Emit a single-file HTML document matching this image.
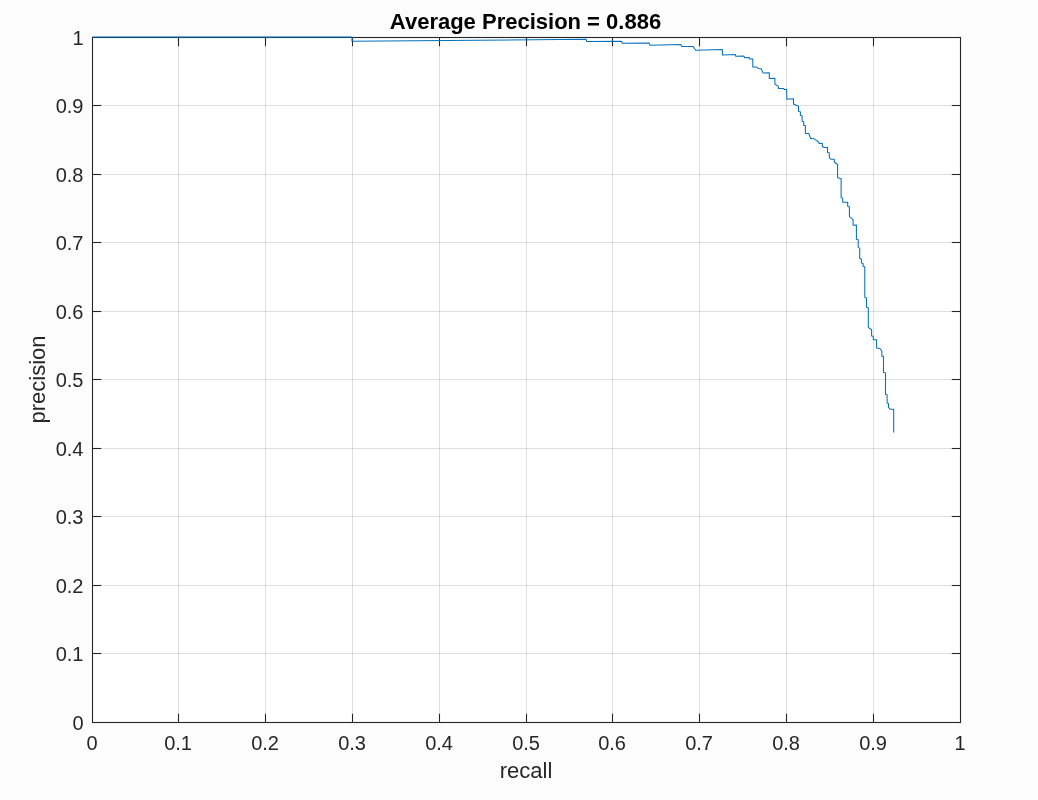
<!DOCTYPE html>
<html lang="en"><head><meta charset="utf-8"><title>Average Precision = 0.886</title>
<style>
html,body{margin:0;padding:0;background:#fcfcfc;}
body{width:1038px;height:800px;overflow:hidden;}
svg{display:block;}
text{font-family:"Liberation Sans",Arial,Helvetica,sans-serif;}
.tk{font-size:20px;fill:#262626;}
.lb{font-size:22px;fill:#262626;}
.ti{font-size:22px;font-weight:bold;fill:#000;}
</style></head><body>
<svg width="1038" height="800" viewBox="0 0 1038 800">
<rect x="0" y="0" width="1038" height="800" fill="#fcfcfc"/>
<rect x="92.5" y="37.5" width="868.0" height="685.0" fill="#fff"/>
<g stroke="#262626" stroke-opacity="0.15" stroke-width="1" fill="none">
<line x1="178.50" y1="37.5" x2="178.50" y2="722.5"/><line x1="92.5" y1="653.50" x2="960.5" y2="653.50"/>
<line x1="265.50" y1="37.5" x2="265.50" y2="722.5"/><line x1="92.5" y1="585.50" x2="960.5" y2="585.50"/>
<line x1="352.50" y1="37.5" x2="352.50" y2="722.5"/><line x1="92.5" y1="516.50" x2="960.5" y2="516.50"/>
<line x1="439.50" y1="37.5" x2="439.50" y2="722.5"/><line x1="92.5" y1="448.50" x2="960.5" y2="448.50"/>
<line x1="526.50" y1="37.5" x2="526.50" y2="722.5"/><line x1="92.5" y1="379.50" x2="960.5" y2="379.50"/>
<line x1="612.50" y1="37.5" x2="612.50" y2="722.5"/><line x1="92.5" y1="311.50" x2="960.5" y2="311.50"/>
<line x1="699.50" y1="37.5" x2="699.50" y2="722.5"/><line x1="92.5" y1="242.50" x2="960.5" y2="242.50"/>
<line x1="786.50" y1="37.5" x2="786.50" y2="722.5"/><line x1="92.5" y1="174.50" x2="960.5" y2="174.50"/>
<line x1="873.50" y1="37.5" x2="873.50" y2="722.5"/><line x1="92.5" y1="105.50" x2="960.5" y2="105.50"/>
</g>
<g stroke="#262626" stroke-width="1.1" fill="none">
<rect x="92.5" y="37.5" width="868.0" height="685.0"/>
<line x1="178.50" y1="722.5" x2="178.50" y2="713.8"/><line x1="178.50" y1="37.5" x2="178.50" y2="46.2"/><line x1="92.5" y1="653.50" x2="101.2" y2="653.50"/><line x1="960.5" y1="653.50" x2="951.8" y2="653.50"/>
<line x1="265.50" y1="722.5" x2="265.50" y2="713.8"/><line x1="265.50" y1="37.5" x2="265.50" y2="46.2"/><line x1="92.5" y1="585.50" x2="101.2" y2="585.50"/><line x1="960.5" y1="585.50" x2="951.8" y2="585.50"/>
<line x1="352.50" y1="722.5" x2="352.50" y2="713.8"/><line x1="352.50" y1="37.5" x2="352.50" y2="46.2"/><line x1="92.5" y1="516.50" x2="101.2" y2="516.50"/><line x1="960.5" y1="516.50" x2="951.8" y2="516.50"/>
<line x1="439.50" y1="722.5" x2="439.50" y2="713.8"/><line x1="439.50" y1="37.5" x2="439.50" y2="46.2"/><line x1="92.5" y1="448.50" x2="101.2" y2="448.50"/><line x1="960.5" y1="448.50" x2="951.8" y2="448.50"/>
<line x1="526.50" y1="722.5" x2="526.50" y2="713.8"/><line x1="526.50" y1="37.5" x2="526.50" y2="46.2"/><line x1="92.5" y1="379.50" x2="101.2" y2="379.50"/><line x1="960.5" y1="379.50" x2="951.8" y2="379.50"/>
<line x1="612.50" y1="722.5" x2="612.50" y2="713.8"/><line x1="612.50" y1="37.5" x2="612.50" y2="46.2"/><line x1="92.5" y1="311.50" x2="101.2" y2="311.50"/><line x1="960.5" y1="311.50" x2="951.8" y2="311.50"/>
<line x1="699.50" y1="722.5" x2="699.50" y2="713.8"/><line x1="699.50" y1="37.5" x2="699.50" y2="46.2"/><line x1="92.5" y1="242.50" x2="101.2" y2="242.50"/><line x1="960.5" y1="242.50" x2="951.8" y2="242.50"/>
<line x1="786.50" y1="722.5" x2="786.50" y2="713.8"/><line x1="786.50" y1="37.5" x2="786.50" y2="46.2"/><line x1="92.5" y1="174.50" x2="101.2" y2="174.50"/><line x1="960.5" y1="174.50" x2="951.8" y2="174.50"/>
<line x1="873.50" y1="722.5" x2="873.50" y2="713.8"/><line x1="873.50" y1="37.5" x2="873.50" y2="46.2"/><line x1="92.5" y1="105.50" x2="101.2" y2="105.50"/><line x1="960.5" y1="105.50" x2="951.8" y2="105.50"/>
</g>
<polyline points="92.5,37.0 352.0,37.0 352.0,41.2 586,39.3 586.8,41.5 621.5,41.3 622.3,43.3 649,42.9 649.8,45.2 681,44.6 681.8,46.6 693,46.4 695.7,50.2 722.4,49.6 722.4,54.9 735.3,54.5 735.8,56.3 743.9,56.0 744.7,57.7 749.3,57.6 749.9,59.1 752.8,58.9 752.8,67.1 757,67.0 758.2,68.5 761.2,68.7 763.2,73.1 769.3,72.8 769.3,78.4 774.9,78.3 774.9,84.1 778.2,86.2 778.6,88.6 783.2,88.4 784.4,89.5 786.7,89.5 786.8,99.3 793.5,98.7 793.5,104.0 798.5,106.3 798.5,111.4 800.4,111.7 800.4,115.4 802.1,115.7 802.1,121.2 803.7,121.4 803.7,125.5 805.4,125.5 805.4,133.4 808.7,133.5 810.8,138.7 813.1,138.4 817.4,140.9 819.3,143.4 822.3,143.2 822.3,146.5 824.3,147.5 827.5,147.4 827.5,152.5 829.3,152.7 829.3,157.6 831.2,159.3 834.3,159.3 834.3,162.0 837.6,164.5 837.6,177.8 841.1,178.7 841.1,197.6 842.7,198.3 842.7,202.3 847.7,202.3 847.7,206.2 849.4,207.0 849.4,216.6 853.1,219.7 853.1,225.3 856.4,225.1 856.4,239.3 858.2,239.7 858.2,247.2 859.7,248.3 859.7,258.5 861.4,258.9 861.4,263.1 863.1,263.5 863.1,266.2 864.8,266.8 864.8,297.3 866.5,297.9 866.5,307.3 868.3,307.7 868.3,327.4 871.6,329.7 871.6,335.9 873.3,336.2 873.3,339.7 876.6,339.7 876.6,348.1 879.9,348.5 881.85,351.2 881.85,356.2 883.5,356.3 883.5,372.4 885.5,372.8 885.5,394.3 887.1,394.7 887.1,403.1 888.5,403.5 888.5,407.35 890.5,409.3 893.7,409.3 893.7,432.4" fill="none" stroke="#0072bd" stroke-width="1.05" stroke-linejoin="round"/>
<text class="tk" x="92.10" y="750.3" text-anchor="middle">0</text><text class="tk" x="83.5" y="730.30" text-anchor="end">0</text>
<text class="tk" x="178.10" y="750.3" text-anchor="middle">0.1</text><text class="tk" x="83.5" y="661.30" text-anchor="end">0.1</text>
<text class="tk" x="265.10" y="750.3" text-anchor="middle">0.2</text><text class="tk" x="83.5" y="593.30" text-anchor="end">0.2</text>
<text class="tk" x="352.10" y="750.3" text-anchor="middle">0.3</text><text class="tk" x="83.5" y="524.30" text-anchor="end">0.3</text>
<text class="tk" x="439.10" y="750.3" text-anchor="middle">0.4</text><text class="tk" x="83.5" y="456.30" text-anchor="end">0.4</text>
<text class="tk" x="526.10" y="750.3" text-anchor="middle">0.5</text><text class="tk" x="83.5" y="387.30" text-anchor="end">0.5</text>
<text class="tk" x="612.10" y="750.3" text-anchor="middle">0.6</text><text class="tk" x="83.5" y="319.30" text-anchor="end">0.6</text>
<text class="tk" x="699.10" y="750.3" text-anchor="middle">0.7</text><text class="tk" x="83.5" y="250.30" text-anchor="end">0.7</text>
<text class="tk" x="786.10" y="750.3" text-anchor="middle">0.8</text><text class="tk" x="83.5" y="182.30" text-anchor="end">0.8</text>
<text class="tk" x="873.10" y="750.3" text-anchor="middle">0.9</text><text class="tk" x="83.5" y="113.30" text-anchor="end">0.9</text>
<text class="tk" x="960.10" y="750.3" text-anchor="middle">1</text><text class="tk" x="83.5" y="45.30" text-anchor="end">1</text>
<text class="lb" x="526" y="777.6" text-anchor="middle">recall</text>
<text class="lb" transform="translate(45,379.5) rotate(-90)" text-anchor="middle">precision</text>
<text class="ti" x="525.5" y="28.9" text-anchor="middle">Average Precision = 0.886</text>
</svg></body></html>
